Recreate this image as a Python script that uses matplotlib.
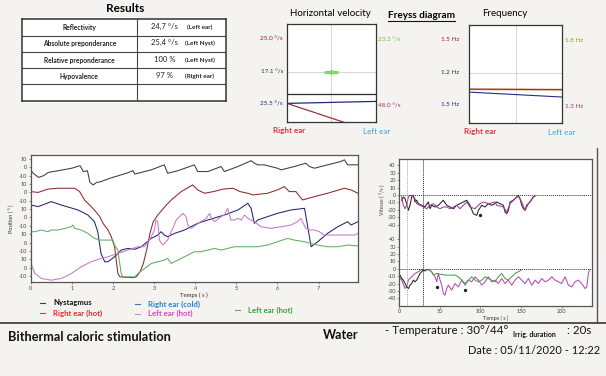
import numpy as np
import matplotlib
matplotlib.use('Agg')
import matplotlib.pyplot as plt
from matplotlib.lines import Line2D

W, H = 606, 376
plt.rcParams['font.family'] = ['Lato', 'DejaVu Sans']

# ---- results table
res_labels = ['Reflectivity', 'Absolute preponderance', 'Relative preponderance', 'Hypovalence', '']
res_values = ['24,7 °/s', '25,4 °/s', '100 %', '97 %', '']
res_notes = ['(Left ear)', '(Left Nyst)', '(Left Nyst)', '(Right ear)', '']

# ---- Freyss diagram (box-normalised, right ear -> left ear)
hv_right = [0.29, 0.19, 0.19]
hv_left = [0.29, 0.21, -0.11]
hv_colors = ['#2b2b2b', '#1f2a78', '#8e3a3a']
hv_lab_left = ['25.0 °/s', '17.1 °/s', '25.5 °/s']
hv_lab_left_y = [0.845, 0.51, 0.18]
hv_lab_left_c = ['#9a2020', '#333333', '#1f2a78']
hv_lab_right = ['23.3 °/s', '48.0 °/s']
hv_lab_right_y = [0.84, 0.165]
hv_lab_right_c = ['#6cc04a', '#a0307a']

fr_right = [0.34, 0.31]
fr_left = [0.335, 0.26]
fr_colors = ['#a02a2a', '#2a2a80']
fr_lab_left = ['1.5 Hz', '1.2 Hz', '1.5 Hz']
fr_lab_left_c = ['#9a2020', '#333333', '#1f2a78']
fr_lab_right = ['1.8 Hz', '1.3 Hz']
fr_lab_right_c = ['#8aa020', '#a0307a']

# ---- position traces (stacked, tick step = 10)
nys_t = [0, 0.06, 0.19, 0.31, 0.43, 0.67, 1.0, 1.2, 1.28, 1.38, 1.44, 1.52, 1.6, 1.68, 1.93,
         2.33, 2.49, 2.53, 2.93, 3.25, 3.33, 3.58, 3.98, 4.06, 4.31, 4.63, 4.71, 5.04, 5.36,
         5.44, 5.52, 5.68, 6.0, 6.09, 6.41, 6.69, 6.78, 6.9, 7.22, 7.54, 7.63, 7.71, 7.96]
nys_v = [127, 123, 118, 120, 124, 126, 129, 132, 125, 126, 112, 109, 112, 112.5, 117,
         123, 126, 122, 127, 133, 123, 126, 133, 125, 125, 131, 125, 131, 138,
         135, 133, 133, 129, 127, 131, 135, 131, 129, 133, 137, 139, 133, 133]

rh_t = [0, 0.18, 0.42, 0.66, 1.07, 1.19, 1.31, 1.43, 1.55, 1.68, 1.76, 1.88, 1.96, 2.04, 2.08,
        2.12, 2.17, 2.33, 2.49, 2.57, 2.66, 2.74, 2.82, 2.9, 2.98, 3.09, 3.3, 3.42, 3.66, 3.94,
        4.06, 4.23, 4.44, 4.68, 4.92, 5.09, 5.28, 5.41, 5.76, 6.0, 6.17, 6.29, 6.45, 6.61,
        6.9, 7.22, 7.63, 7.79, 7.96]
rh_v = [101, 100, 104, 105, 105, 101, 91, 85, 79, 71, 63, 55, 47, 35, 19,
        3, -1, -1.6, -2, -1, 5, 15, 31, 51, 65, 73, 85, 91, 101, 109,
        103, 99, 101, 104, 105, 101, 99, 97, 99, 103, 107, 101, 101, 91,
        95, 99, 105, 103, 99]

rc_t = [0, 0.18, 0.5, 0.74, 1.15, 1.39, 1.55, 1.63, 1.71, 1.8, 1.88, 2.04, 2.2, 2.36, 2.53,
        2.69, 2.93, 3.09, 3.17, 3.25, 3.33, 3.5, 3.74, 4.06, 4.31, 4.71, 5.04, 5.28, 5.36,
        5.44, 5.52, 5.76, 6.0, 6.33, 6.66, 6.82, 6.98, 7.22, 7.47, 7.71, 7.79, 7.96]
rc_v = [85, 83, 89, 85, 79, 73, 65, 53, 27, 17, 17, 23, 31, 33, 32,
        35, 45, 49, 53, 49, 47, 51, 55, 63, 67, 73, 79, 87, 81,
        63, 67, 71, 75, 79, 81, 35, 41, 51, 59, 65, 61, 65]

lp_t = [0, 0.01, 0.1, 0.26, 0.5, 0.74, 0.83, 0.99, 1.23, 1.47, 1.71, 1.88, 2.12, 2.36, 2.61,
        2.77, 2.93, 3.01, 3.05, 3.09, 3.13, 3.21, 3.33, 3.42, 3.54, 3.66, 3.7, 3.78, 3.82,
        3.9, 4.02, 4.14, 4.27, 4.35, 4.4, 4.47, 4.63, 4.71, 4.79, 4.87, 4.96, 5.04, 5.12,
        5.2, 5.28, 5.44, 5.6, 5.84, 6.09, 6.33, 6.49, 6.57, 6.61, 6.69, 6.78, 6.9, 7.02,
        7.14, 7.38, 7.63, 7.87, 7.96]
lp_v = [27, 15, 3, -3, -5, -3, -1, 3, 11, 17, 21, 23, 27, 31, 35,
        35, 47, 55, 67, 65, 43, 37, 43, 53, 67, 73, 75, 71, 61,
        57, 61, 65, 69, 75, 69, 65, 71, 73, 81, 67, 67, 69, 67,
        73, 69, 65, 59, 57, 59, 61, 65, 69, 65, 57, 55, 55, 53,
        49, 49, 49, 49, 51]

lg_t = [0, 0.1, 0.26, 0.42, 0.5, 0.66, 0.83, 0.99, 1.03, 1.07, 1.23, 1.39, 1.55, 1.68, 1.88,
        2.0, 2.04, 2.12, 2.2, 2.24, 2.36, 2.53, 2.61, 2.77, 2.93, 3.09, 3.25, 3.33, 3.42,
        3.58, 3.74, 3.98, 4.14, 4.31, 4.47, 4.63, 4.79, 4.96, 5.12, 5.28, 5.52, 5.76, 6.0,
        6.25, 6.41, 6.66, 6.82, 6.98, 7.22, 7.47, 7.71, 7.96]
lg_v = [53, 53, 55, 53, 55, 55, 57, 59, 61, 57, 55, 51, 45, 43, 43,
        43, 37, 31, 3, -1, -1, -1, 3, 9, 15, 17, 19, 21, 15,
        19, 23, 29, 29, 31, 33, 31, 33, 35, 35, 35, 35, 37, 41,
        45, 43, 41, 39, 37, 35, 35, 37, 36]

pos_ticks = np.arange(0, 141, 10)
pos_tick_labels = ['-10', '0', '10'] * 5

# ---- velocity traces (upper band shifted by VIT_OFFSET)
VIT_OFFSET = 100
up_k_t = [3.3, 5.3, 7.4, 9.4, 11.5, 13.5, 15.6, 17.6, 19.7, 21.7, 23.8, 27.8, 31.9, 36.0, 38.1,
          40.1, 44.2, 48.3, 52.4, 54.5, 58.6, 62.7, 66.8, 70.8, 74.9, 79.0, 83.1, 87.2, 91.3,
          95.4, 97.5, 101.6, 105.6, 109.7, 113.8, 117.9, 120.0, 124.1, 128.2, 130.2, 132.3,
          134.3, 136.4, 140.4, 144.5, 146.6, 148.6, 150.7, 152.7, 154.8, 156.8, 160.9, 165.0, 167.0]
up_k_v = [-7.2, -2.7, -5.0, -11.8, -20.8, -14.0, -2.7, -0.4, -9.5, -7.2, -11.8, -14.0, -16.3, -9.5, -18.6,
          -14.0, -16.3, -14.0, -9.5, -7.2, -14.0, -16.3, -18.6, -14.0, -11.8, -9.5, -7.2, -14.0, -25.4,
          -27.6, -20.8, -14.0, -16.3, -11.8, -14.0, -11.8, -9.5, -11.8, -14.0, -23.1, -25.4,
          -20.8, -9.5, -7.2, -2.7, -0.4, -5.0, -14.0, -18.6, -20.8, -14.0, -9.5, -2.7, -1.4]
up_p_t = [3.3, 5.3, 7.4, 9.4, 11.5, 13.5, 17.6, 19.7, 21.7, 25.8, 29.9, 34.0, 38.1, 42.2, 46.3,
          50.4, 54.5, 58.6, 62.7, 66.8, 70.8, 74.9, 79.0, 83.1, 87.2, 93.3, 99.5, 103.6, 109.7,
          117.9, 120.0, 128.2, 132.3, 136.4, 142.5, 146.6, 150.7, 154.8, 158.9, 165.0]
up_p_v = [-2.7, -14.0, -18.6, -14.0, -2.7, -0.4, -2.7, -5.0, -11.8, -14.0, -16.3, -18.6, -14.0, -11.8, -16.3,
          -18.6, -16.3, -16.3, -18.6, -16.3, -14.0, -18.6, -14.0, -9.5, -16.3, -18.6, -11.8, -9.5, -11.8,
          -9.5, -14.0, -16.3, -23.1, -11.8, -5.0, -1.8, -9.5, -20.8, -11.8, -2.7]

lo_k_t = [1.2, 3.3, 5.3, 7.4, 9.4, 11.5, 13.5, 15.6, 17.6, 19.7, 21.7, 23.8, 25.8, 27.8, 29.9, 31.9]
lo_k_v = [-8.4, -13.0, -15.2, -19.8, -24.3, -26.6, -22.0, -19.8, -15.2, -17.5, -15.2, -10.7, -6.2, -3.9, -1.6, -2.5]
lo_g_t = [31.9, 36.0, 40.1, 42.2, 46.3, 50.4, 56.5, 62.7, 68.8, 72.9, 77.0, 81.1, 85.2, 89.3, 93.4,
          97.5, 101.6, 105.6, 109.7, 113.8, 117.9, 122.0, 126.1, 130.2, 134.3, 138.4, 142.5, 146.6, 149.9]
lo_g_v = [-2.5, -0.7, -3.9, -8.4, -6.2, -7.1, -8.4, -8.4, -8.4, -10.7, -15.2, -22.0, -15.2, -10.7, -15.2,
          -17.5, -15.2, -10.7, -13.0, -15.2, -17.5, -10.7, -6.2, -13.0, -15.2, -10.7, -6.2, -3.9, -1.6]
lo_m_t = [0, 3.3, 7.4, 9.4, 11.5, 15.6, 19.7, 23.8, 27.8, 31.9, 36.0, 40.1, 44.2, 46.3, 48.3,
          50.4, 52.4, 54.5, 56.5, 58.6, 60.6, 64.7, 68.8, 72.9, 77.0, 81.1, 85.2, 89.3, 93.4,
          97.5, 101.6, 105.6, 109.7, 113.8, 117.9, 122.0, 126.1, 130.2, 134.3, 138.4, 142.5,
          146.6, 150.7, 154.8, 158.9, 163.0, 167.1, 171.2, 175.3, 179.4, 183.5, 187.6, 191.7,
          195.8, 199.8, 203.9, 208.0, 212.1, 216.2, 220.3, 224.4, 228.5, 230.6, 232.6, 233.8]
lo_m_v = [-10.7, -15.2, -26.6, -24.3, -15.2, -10.7, -6.2, -3.9, -0.7, -2.5, -0.7, -3.9, -10.7, -17.5, -6.2,
          -15.2, -22.0, -33.4, -35.6, -26.6, -22.0, -28.8, -19.8, -24.3, -15.2, -19.8, -15.2, -17.5, -10.7,
          -15.2, -22.0, -17.5, -10.7, -17.5, -15.2, -19.8, -13.0, -19.8, -15.2, -22.0, -15.2,
          -10.7, -15.2, -19.8, -13.0, -22.0, -15.2, -19.8, -13.0, -17.5, -15.2, -10.7, -15.2,
          -17.5, -19.8, -10.7, -22.0, -24.3, -17.5, -15.2, -19.8, -26.6, -24.3, -6.2, -1.6]
dot_t = [99.5, 46.3, 81.1]
dot_v = [-27.6 + VIT_OFFSET, -24.3, -28.8]
irrig_marks = [10, 30]


def fx(x):
    return x / W


def fy(y):
    return 1 - y / H


fig = plt.figure(figsize=(W / 100, H / 100), dpi=100)
fig.patch.set_facecolor('#f4f3ef')

# ---------------- results table
fig.text(fx(125), fy(8), 'Results', ha='center', va='center', fontsize=8.5, fontweight='bold')
tab = fig.add_axes([fx(22), fy(100.7), fx(204), 81.4 / H])
tab.set_facecolor('white')
tab.set_xlim(0, 1)
tab.set_ylim(len(res_labels), 0)
tab.set_xticks([])
tab.set_yticks([])
for s in tab.spines.values():
    s.set_linewidth(1.1)
    s.set_color('#333333')
for i in range(1, len(res_labels)):
    tab.axhline(i, color='#444444', lw=0.8)
tab.axvline(0.562, color='#444444', lw=0.8)
for i, (lab, val, note) in enumerate(zip(res_labels, res_values, res_notes)):
    tab.text(0.281, i + 0.5, lab, ha='center', va='center', fontsize=4.8, fontweight='bold', color='#222222')
    tab.text(0.70, i + 0.45, val, ha='center', va='center', fontsize=5.5, color='#222222')
    tab.text(0.87, i + 0.5, note, ha='center', va='center', fontsize=4.6, fontweight='bold', color='#222222')

# ---------------- Freyss diagram
fig.text(fx(330), fy(13), 'Horizontal velocity', ha='center', va='center', fontsize=7)
fr_title = fig.text(fx(421.5), fy(15), 'Freyss diagram', ha='center', va='center', fontsize=7.2, fontweight='bold')
fig.text(fx(505), fy(13), 'Frequency', ha='center', va='center', fontsize=7)

hv = fig.add_axes([fx(287), fy(122), fx(88.5), 98 / H])
fq = fig.add_axes([fx(469), fy(122.5), fx(93), 98 / H])
for a in (hv, fq):
    a.set_facecolor('white')
    a.set_xlim(0, 1)
    a.set_ylim(0, 1)
    a.set_xticks([])
    a.set_yticks([])
    a.axvline(0.5, color='#d0d0d0', lw=0.6)
    a.axhline(0.51, color='#d0d0d0', lw=0.6)
    for s in a.spines.values():
        s.set_color('#333333')
        s.set_linewidth(0.9)

for r, l, c in zip(hv_right, hv_left, hv_colors):
    hv.plot([0, 1], [r, l], color=c, lw=0.9)
hv.errorbar([0.5], [0.51], xerr=[0.08], fmt='o', ms=2.5, color='#7ed86a', elinewidth=2.2, capsize=0)
for lab, y, c in zip(hv_lab_left, hv_lab_left_y, hv_lab_left_c):
    hv.text(-0.045, y, lab, transform=hv.transAxes, ha='right', va='center', fontsize=4.6, color=c)
for lab, y, c in zip(hv_lab_right, hv_lab_right_y, hv_lab_right_c):
    hv.text(1.03, y, lab, transform=hv.transAxes, ha='left', va='center', fontsize=4.6, color=c)

fq.plot([0, 1], [fr_right[0], fr_left[0]], color='#d8a070', lw=1.6, alpha=0.7)
for r, l, c in zip(fr_right, fr_left, fr_colors):
    fq.plot([0, 1], [r, l], color=c, lw=0.8)
for lab, y, c in zip(fr_lab_left, hv_lab_left_y, fr_lab_left_c):
    fq.text(-0.1, y, lab, transform=fq.transAxes, ha='right', va='center', fontsize=4.6, color=c)
for lab, y, c in zip(fr_lab_right, hv_lab_right_y, fr_lab_right_c):
    fq.text(1.03, y, lab, transform=fq.transAxes, ha='left', va='center', fontsize=4.6, color=c)

for a, xr, xl in ((hv, 0.02, 1.01), (fq, 0.12, 1.0)):
    a.text(xr, -0.09, 'Right ear', transform=a.transAxes, ha='center', va='center',
           fontsize=5.8, fontweight='bold', color='#e0303a')
    a.text(xl, -0.1, 'Left ear', transform=a.transAxes, ha='center', va='center',
           fontsize=5.8, color='#3aa0e0')

# ---------------- position chart
ax = fig.add_axes([fx(30.7), fy(282), fx(327.3), 127 / H])
ax.set_facecolor('white')
traces = [(nys_t, nys_v, '#3c3c3c'), (rh_t, rh_v, '#8c2a2a'), (rc_t, rc_v, '#24246e'),
          (lp_t, lp_v, '#c878c8'), (lg_t, lg_v, '#5fae62')]
for t, v, c in traces:
    ax.plot(t, v, color=c, lw=0.75)
ax.set_xlim(0, 7.96)
ax.set_ylim(-7.2, 144.8)
ax.set_yticks(pos_ticks)
ax.set_yticklabels(pos_tick_labels)
ax.set_xticks(range(8))
ax.tick_params(labelsize=4, length=1.2, width=0.4, pad=1.5, colors='#444444')
ax.set_xlabel('Temps ( s )', fontsize=4.3, labelpad=1.5, color='#333333')
ax.set_ylabel('Position ( ° )', fontsize=4, labelpad=3, color='#333333')
for s in ax.spines.values():
    s.set_color('#555555')
    s.set_linewidth(0.9)

leg_names = ['Nystagmus', 'Right ear (hot)', 'Right ear (cold)', 'Left ear (hot)', 'Left ear (hot)']
leg_line_c = ['#3c3c3c', '#d04040', '#3a78c0', '#e080d0', '#5fae62']
leg_text_c = ['#111111', '#e02a2a', '#2a80d0', '#e040d0', '#30a040']
leg_xy = [(40, 303), (40, 313), (135, 304), (135, 313.5), (235, 310)]
for name, lc, tc, (x, y) in zip(leg_names, leg_line_c, leg_text_c, leg_xy):
    fig.add_artist(Line2D([fx(x), fx(x + 5)], [fy(y), fy(y)], color=lc, lw=0.8))
    fig.text(fx(x + 13), fy(y), name, ha='left', va='center', fontsize=5.6,
             fontweight='bold', color=tc)

# ---------------- velocity chart
vx = fig.add_axes([fx(399), fy(306), fx(193), 147 / H])
vx.set_facecolor('white')
vx.plot(up_k_t, np.array(up_k_v) + VIT_OFFSET, color='#222222', lw=0.75)
vx.plot(up_p_t, np.array(up_p_v) + VIT_OFFSET, color='#a03c9a', lw=0.75)
vx.plot(lo_m_t, lo_m_v, color='#b848b0', lw=0.75)
vx.plot(lo_g_t, lo_g_v, color='#48a048', lw=0.75)
vx.plot(lo_k_t, lo_k_v, color='#222222', lw=0.75)
vx.scatter(dot_t, dot_v, s=2, color='#222222', zorder=3)
vx.axhline(0, color='#333333', lw=0.7, ls=(0, (1, 1)))
vx.axhline(VIT_OFFSET, color='#333333', lw=0.7, ls=(0, (1, 1)))
vx.axvline(irrig_marks[0], color='#c8a070', lw=0.7, ls=(0, (1, 1)))
vx.axvline(irrig_marks[1], color='#222222', lw=0.7, ls=(0, (1, 1)))
vx.set_xlim(0, 237)
vx.set_ylim(-50.2, 148.6)
vt = list(range(-40, 41, 10))
vx.set_yticks(vt + [v + VIT_OFFSET for v in vt])
vx.set_yticklabels([str(v) for v in vt] * 2)
vx.set_xticks([0, 50, 100, 150, 200])
vx.tick_params(labelsize=4, length=1.2, width=0.4, pad=1.2, colors='#444444')
vx.set_xlabel('Temps ( s )', fontsize=4, labelpad=1, color='#333333')
fig.text(fx(382), fy(200), 'Vitesse ( °/s )', rotation=90, ha='center', va='center',
         fontsize=3.8, color='#444444')
for s in vx.spines.values():
    s.set_color('#555555')
    s.set_linewidth(0.9)

fig.add_artist(Line2D([fx(597), fx(597)], [fy(148), fy(322)], color='#555555', lw=1.0))
fig.add_artist(Line2D([0, 1], [fy(323), fy(323)], color='#444444', lw=1.3))

# ---------------- footer
fig.text(fx(8), fy(337), 'Bithermal caloric stimulation', ha='left', va='center',
         fontsize=9.2, fontweight='bold', color='#111111')
fig.text(fx(323), fy(335), 'Water', ha='left', va='center', fontsize=9, fontweight='bold', color='#111111')
fig.text(fx(385), fy(330), '- Temperature : 30°/44°', ha='left', va='center', fontsize=8.3, color='#111111')
fig.text(fx(513), fy(334), 'Irrig. duration', ha='left', va='center', fontsize=5, fontweight='bold', color='#111111')
fig.text(fx(567), fy(330), ': 20s', ha='left', va='center', fontsize=8.3, color='#111111')
fig.text(fx(600), fy(351), 'Date : 05/11/2020 - 12:22', ha='right', va='center', fontsize=7.9, color='#111111')

# underline for the Freyss title
fig.canvas.draw()
bb = fr_title.get_window_extent().transformed(fig.transFigure.inverted())
fig.add_artist(Line2D([bb.x0, bb.x1], [bb.y0 - 0.004, bb.y0 - 0.004], color='#111111', lw=0.8))

fig.savefig('out.png', dpi=100, facecolor=fig.get_facecolor())
